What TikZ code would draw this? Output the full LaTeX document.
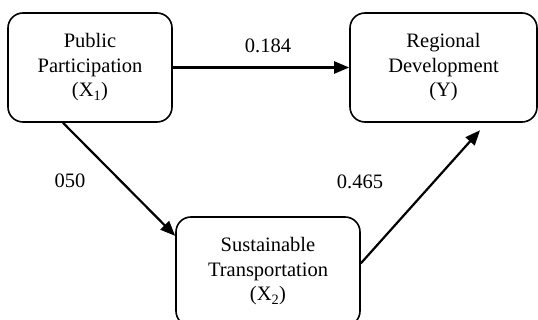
\documentclass[tikz,border=0pt]{standalone}
\usepackage{fontspec}
\setmainfont{Liberation Serif}
\usetikzlibrary{arrows.meta,positioning}

\begin{document}
\begin{tikzpicture}[x=1pt,y=-1pt,
	box/.style={draw, line width=1.6pt, rounded corners=15pt, align=center,
		font=\fontsize{20.5}{24.5}\selectfont, inner sep=0pt},
	path/.style={line width=2.2pt, -{Triangle[length=15pt,width=12pt]}},
	coef/.style={font=\fontsize{20.5}{24.5}\selectfont}]
	\useasboundingbox (0,0) rectangle (538,320);
	\clip (0,0) rectangle (538,320);

	\node[box, minimum width=164pt, minimum height=109pt] (pp) at (90,67.5)
		{Public\\Participation\\(X\textsubscript{1})};
	\node[box, minimum width=187pt, minimum height=109pt] (rd) at (443.5,67.5)
		{Regional\\Development\\(Y)};
	\node[box, minimum width=184pt, minimum height=109pt] (st) at (268,271.5)
		{Sustainable\\Transportation\\(X\textsubscript{2})};

	\draw[path] (pp.east) -- (rd.west);
	\draw[path] (pp.244) -- (st.159);
	\draw[path, shorten >=10pt] (st.5) -- (rd.308);

	\node[coef] (b1) at (268,46) {0.184};
	\node[coef] (b2) at (70,181) {050};
	\node[coef] (b3) at (360,182) {0.465};
\end{tikzpicture}
\end{document}
